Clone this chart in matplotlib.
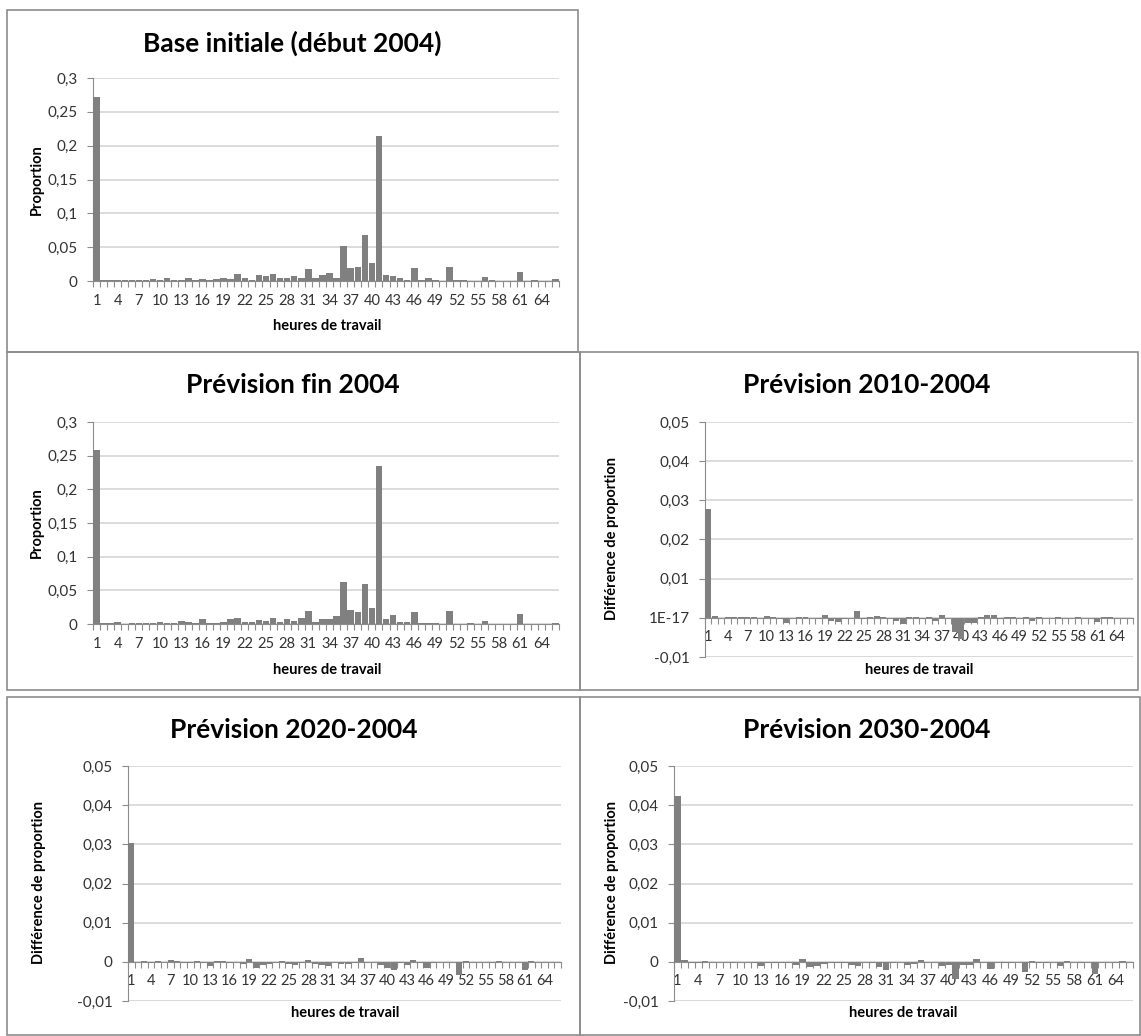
import numpy as np
import matplotlib
matplotlib.use("Agg")
import matplotlib.pyplot as plt
from matplotlib.patches import Rectangle
from matplotlib.ticker import FixedLocator, FuncFormatter

plt.rcParams['font.family'] = ['Lato', 'DejaVu Sans']

# heures de travail 1..66
heures = np.arange(1, 67)

base_2004 = [0.272, 0.001, 0.001, 0.001, 0.001, 0.002, 0.002, 0.001, 0.003, 0.002,
             0.005, 0.001, 0.001, 0.004, 0.001, 0.003, 0.002, 0.003, 0.004, 0.003,
             0.010, 0.004, 0.001, 0.009, 0.007, 0.010, 0.004, 0.004, 0.008, 0.004,
             0.018, 0.005, 0.009, 0.012, 0.005, 0.051, 0.019, 0.021, 0.068, 0.026,
             0.215, 0.009, 0.008, 0.005, 0.002, 0.019, 0.001, 0.004, 0.002, 0.000,
             0.020, 0.002, 0.002, 0.000, 0.000, 0.006, 0.002, 0.000, 0.000, 0.000,
             0.013, 0.000, 0.002, 0.000, 0.000, 0.003]

fin_2004 = [0.258, 0.001, 0.001, 0.003, 0.000, 0.001, 0.001, 0.001, 0.002, 0.003,
            0.002, 0.001, 0.005, 0.003, 0.002, 0.007, 0.002, 0.002, 0.003, 0.007,
            0.009, 0.003, 0.003, 0.006, 0.005, 0.009, 0.003, 0.007, 0.005, 0.009,
            0.019, 0.003, 0.007, 0.007, 0.012, 0.063, 0.021, 0.018, 0.059, 0.024,
            0.234, 0.007, 0.013, 0.003, 0.003, 0.018, 0.001, 0.001, 0.002, 0.000,
            0.019, 0.000, 0.000, 0.001, 0.000, 0.004, 0.000, 0.000, 0.000, 0.000,
            0.015, 0.000, 0.000, 0.000, 0.000, 0.002]

diff_2010 = [0.0279, 0.0004, 0.0000, 0.0002, 0.0001, 0.0001, 0.0003, 0.0002, 0.0000, 0.0004,
             0.0001, -0.0003, -0.0013, -0.0001, 0.0002, 0.0002, 0.0000, -0.0004, 0.0006, -0.0008,
             -0.0011, -0.0002, 0.0000, 0.0018, -0.0003, 0.0002, 0.0005, 0.0001, 0.0000, -0.0007,
             -0.0016, 0.0003, 0.0001, -0.0003, 0.0001, -0.0009, 0.0008, 0.0000, -0.0035, -0.0055,
             -0.0012, -0.0012, 0.0002, 0.0008, 0.0006, -0.0002, 0.0003, 0.0002, 0.0000, 0.0001,
             -0.0008, 0.0002, 0.0000, 0.0000, 0.0002, 0.0000, 0.0000, 0.0001, 0.0000, 0.0000,
             -0.0010, 0.0003, 0.0001, 0.0000, 0.0000, 0.0000]

diff_2020 = [0.0304, 0.0000, 0.0001, -0.0002, 0.0001, 0.0000, 0.0004, 0.0003, -0.0003, -0.0002,
             0.0001, -0.0002, -0.0010, 0.0001, 0.0002, -0.0002, 0.0000, -0.0005, 0.0006, -0.0017,
             -0.0008, -0.0005, 0.0000, 0.0003, -0.0006, -0.0007, -0.0004, 0.0004, -0.0005, -0.0007,
             -0.0010, 0.0000, -0.0005, -0.0005, -0.0003, 0.0011, 0.0000, 0.0000, -0.0008, -0.0017,
             -0.0022, -0.0003, -0.0009, 0.0004, -0.0002, -0.0015, -0.0002, 0.0000, 0.0000, 0.0000,
             -0.0034, 0.0001, 0.0000, 0.0000, 0.0000, -0.0003, 0.0001, 0.0000, 0.0000, 0.0000,
             -0.0022, 0.0001, 0.0000, 0.0000, 0.0000, 0.0000]

diff_2030 = [0.0423, 0.0004, -0.0002, -0.0003, 0.0001, 0.0000, -0.0001, 0.0000, -0.0003, 0.0000,
             -0.0001, -0.0002, -0.0011, -0.0004, -0.0002, -0.0003, -0.0002, -0.0009, 0.0006, -0.0012,
             -0.0011, -0.0005, -0.0004, -0.0003, -0.0002, -0.0008, -0.0011, 0.0000, -0.0002, -0.0014,
             -0.0022, -0.0004, 0.0000, -0.0008, -0.0006, 0.0004, 0.0000, 0.0000, -0.0011, -0.0008,
             -0.0045, -0.0007, -0.0007, 0.0008, 0.0000, -0.0019, 0.0000, -0.0002, -0.0002, 0.0000,
             -0.0026, 0.0002, -0.0002, -0.0002, 0.0000, -0.0010, 0.0002, 0.0000, -0.0002, 0.0000,
             -0.0032, 0.0000, 0.0000, 0.0000, 0.0002, 0.0000]

W, H = 1141, 1036
fig = plt.figure(figsize=(W / 100, H / 100), dpi=100)


def fx(x):
    return x / W


def fy(y):
    return 1 - y / H


def box(x0, y0, x1, y1):
    fig.add_artist(Rectangle((fx(x0), fy(y1)), fx(x1) - fx(x0), fy(y0) - fy(y1),
                             transform=fig.transFigure, fill=False,
                             edgecolor='#8c8c8c', linewidth=1.2))


def virgule(v, pos):
    if abs(v) < 1e-12:
        return '0'
    s = ('%.2f' % v).rstrip('0').rstrip('.')
    return s.replace('.', ',')


def panneau(left, right, top, bottom, valeurs, ymin, ymax, pas, titre, ylab,
            title_xy, ylab_xy, xlab_xy, zero_label='0'):
    ax = fig.add_axes([fx(left), fy(bottom), fx(right) - fx(left), fy(top) - fy(bottom)])
    ax.bar(heures, valeurs, width=0.92, color='#808080', zorder=3)
    ax.set_xlim(0.5, 66.5)
    ax.set_ylim(ymin, ymax)
    yt = np.round(np.arange(ymin, ymax + pas / 2, pas), 4)
    ax.yaxis.set_major_locator(FixedLocator(yt))
    fmt = lambda v, p: zero_label if abs(v) < 1e-12 else virgule(v, p)
    ax.yaxis.set_major_formatter(FuncFormatter(fmt))
    ax.set_xticks(heures[::3])
    ax.set_xticks(np.arange(0.5, 67, 1), minor=True)
    ax.tick_params(axis='x', which='major', length=0, pad=9, labelsize=10.5, colors='#333333')
    ax.tick_params(axis='x', which='minor', length=4, width=0.8, color='#8c8c8c', direction='out')
    ax.tick_params(axis='y', length=4, width=0.8, color='#8c8c8c', pad=7,
                   labelsize=11, labelcolor='#333333')
    ax.grid(axis='y', color='#d9d9d9', linewidth=1.3, zorder=0)
    for s in ('top', 'right'):
        ax.spines[s].set_visible(False)
    ax.spines['left'].set_color('#8c8c8c')
    ax.spines['bottom'].set_color('#8c8c8c')
    if ymin < 0:
        ax.spines['bottom'].set_position(('data', 0))
        ax.axhline(ymin, color='#d9d9d9', linewidth=1.3, zorder=0)
    ax.set_facecolor('none')

    fig.text(fx(title_xy[0]), fy(title_xy[1]), titre, ha='center', va='center',
             fontsize=19, fontweight='bold', color='black')
    fig.text(fx(ylab_xy[0]), fy(ylab_xy[1]), ylab, ha='center', va='center',
             rotation=90, fontsize=10.5, fontweight='bold', color='black')
    fig.text(fx(xlab_xy[0]), fy(xlab_xy[1]), 'heures de travail', ha='center', va='center',
             fontsize=10.5, fontweight='bold', color='black')
    return ax


box(7, 10, 578, 352)
box(7, 352, 580, 690)
box(580, 352, 1138, 690)
box(7, 697, 580, 1035)
box(580, 697, 1140, 1035)

panneau(93, 559, 78, 281, base_2004, 0, 0.3, 0.05, 'Base initiale (début 2004)',
        'Proportion', (292, 43), (37, 180), (327, 326))
panneau(93, 559, 422, 624, fin_2004, 0, 0.3, 0.05, 'Prévision fin 2004',
        'Proportion', (293, 385), (37, 523), (327, 670))
panneau(705, 1133, 422, 657, diff_2010, -0.01, 0.05, 0.01, 'Prévision 2010-2004',
        'Différence de proportion', (867, 385), (612, 538), (919, 670), zero_label='1E-17')
panneau(128, 561, 766, 1001, diff_2020, -0.01, 0.05, 0.01, 'Prévision 2020-2004',
        'Différence de proportion', (294, 730), (39, 883), (345, 1013))
panneau(674, 1133, 766, 1001, diff_2030, -0.01, 0.05, 0.01, 'Prévision 2030-2004',
        'Différence de proportion', (867, 730), (612, 883), (903, 1013))

fig.savefig('out.png', dpi=100)
